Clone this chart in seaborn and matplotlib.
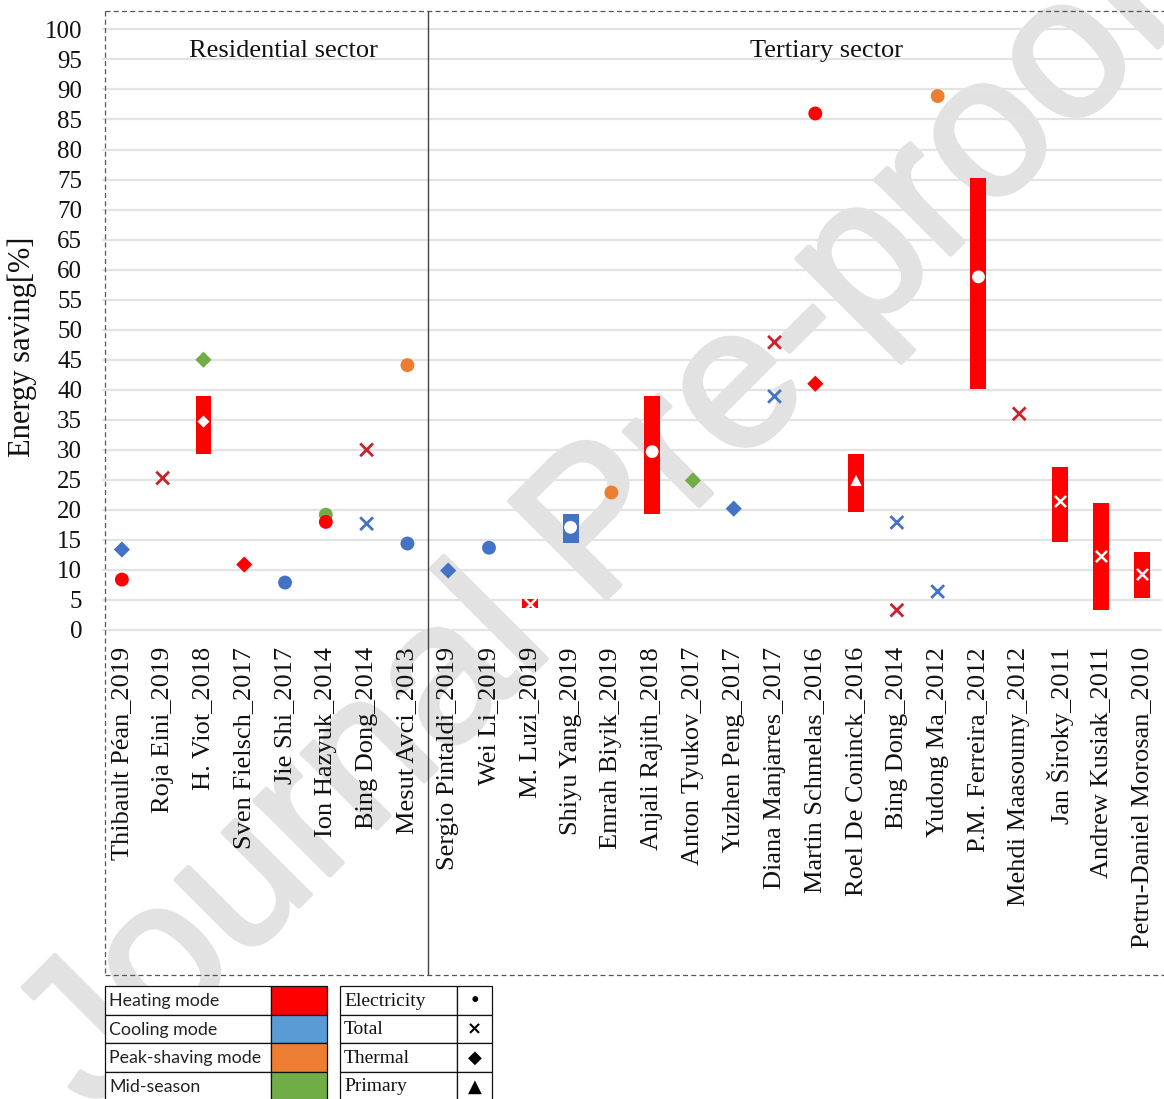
import matplotlib
matplotlib.use("Agg")
import matplotlib.pyplot as plt
import matplotlib.patheffects as pe
from matplotlib.lines import Line2D
from matplotlib.patches import Rectangle
import numpy as np
import pandas as pd
import seaborn as sns

# ---------------------------------------------------------------- data
studies = [
    "Thibault Péan_2019", "Roja Eini_2019", "H. Viot_2018", "Sven Fielsch_2017",
    "Jie Shi_2017", "Ion Hazyuk_2014", "Bing Dong_2014", "Mesut Avci_2013",
    "Sergio Pintaldi_2019", "Wei Li_2019", "M. Luzi_2019", "Shiyu Yang_2019",
    "Emrah Biyik_2019", "Anjali Rajith_2018", "Anton Tyukov_2017", "Yuzhen Peng_2017",
    "Diana Manjarres_2017", "Martin Schmelas_2016", "Roel De Coninck_2016",
    "Bing Dong_2014", "Yudong Ma_2012", "P.M. Ferreira_2012", "Mehdi Maasoumy_2012",
    "Jan Široky_2011", "Andrew Kusiak_2011", "Petru-Daniel Morosan_2010",
]
n_residential = 8

# single reported savings (index into studies)
pt_study = [0, 0, 1, 2, 3, 4, 5, 5, 6, 6, 7, 7, 8, 9, 12, 14, 15, 16, 16, 17, 17,
            19, 19, 20, 20, 22]
pt_value = [13.4, 8.4, 25.3, 45.0, 10.9, 7.9, 19.2, 18.0, 30.0, 17.7, 44.1, 14.4,
            9.9, 13.7, 22.9, 24.9, 20.2, 47.9, 38.9, 86.0, 41.0, 17.9, 3.3, 88.9,
            6.4, 36.0]
pt_mode = ["Cooling", "Heating", "Heating", "Mid-season", "Heating", "Cooling",
           "Mid-season", "Heating", "Heating", "Cooling", "Peak-shaving", "Cooling",
           "Cooling", "Cooling", "Peak-shaving", "Mid-season", "Cooling", "Heating",
           "Cooling", "Heating", "Heating", "Cooling", "Heating", "Peak-shaving",
           "Cooling", "Heating"]
pt_kind = ["Thermal", "Electricity", "Total", "Thermal", "Thermal", "Electricity",
           "Electricity", "Electricity", "Total", "Total", "Electricity", "Electricity",
           "Thermal", "Electricity", "Electricity", "Thermal", "Thermal", "Total",
           "Total", "Electricity", "Thermal", "Total", "Total", "Electricity",
           "Total", "Total"]

# reported ranges of savings (min, max and representative value)
rg_study = [2, 10, 11, 13, 18, 21, 23, 24, 25]
rg_low = [29.3, 3.7, 14.5, 19.3, 19.6, 40.2, 14.7, 3.3, 5.3]
rg_high = [39.0, 5.1, 19.3, 39.0, 29.3, 75.3, 27.2, 21.1, 13.0]
rg_mid = [34.7, 4.4, 17.1, 29.7, 24.9, 58.8, 21.4, 12.3, 9.4]
rg_mode = ["Heating", "Heating", "Cooling", "Heating", "Heating", "Heating",
           "Heating", "Heating", "Heating"]
rg_kind = ["Thermal", "Total", "Electricity", "Electricity", "Primary", "Electricity",
           "Total", "Total", "Total"]

mode_colors = {"Heating": "#FF0000", "Cooling": "#4472C4",
               "Peak-shaving": "#ED7D31", "Mid-season": "#70AD47"}
cross_colors = {"Heating": "#C8232C", "Cooling": "#4472C4"}
legend_modes = ["Heating mode", "Cooling mode", "Peak-shaving mode", "Mid-season"]
legend_mode_colors = ["#FF0000", "#5B9BD5", "#ED7D31", "#70AD47"]
legend_kinds = ["Electricity", "Total", "Thermal", "Primary"]
legend_symbols = ["•", "×", "◆", "▲"]

points = pd.DataFrame({"x": pt_study, "value": pt_value,
                       "mode": pt_mode, "kind": pt_kind})
ranges = pd.DataFrame({"x": rg_study, "low": rg_low, "high": rg_high,
                       "mid": rg_mid, "mode": rg_mode, "kind": rg_kind})

# ---------------------------------------------------------------- style
sns.set_theme(style="white")
plt.rcParams["font.family"] = ["Liberation Serif", "DejaVu Serif"]

W, H = 1164, 1099
fig = plt.figure(figsize=(W / 100, H / 100), dpi=100)
fig.patch.set_facecolor("white")


def fxy(px, py):
    return px / W, 1 - py / H


y_zero_px, px_per_unit = 630.0, 6.006
ylo, yhi = -1.0, 103.1
ax_left, ax_right = 101.5, 1162.0
ax_bottom = y_zero_px - ylo * px_per_unit
ax_top = y_zero_px - yhi * px_per_unit
ax = fig.add_axes([ax_left / W, 1 - ax_bottom / H,
                   (ax_right - ax_left) / W, (ax_bottom - ax_top) / H])
ax.set_facecolor("none")

# ---------------------------------------------------------------- watermark (behind the chart)
wx, wy = fxy(92, 1113)
fig.text(wx, wy, "Journal Pre-proof", rotation=45, rotation_mode="anchor",
         ha="left", va="baseline", fontsize=144, family=["Liberation Sans"],
         color="#E2E2E2", zorder=-5,
         path_effects=[pe.withStroke(linewidth=3.5, foreground="#E2E2E2")])

# ---------------------------------------------------------------- ranges
ax.bar(ranges["x"], ranges["high"] - ranges["low"], bottom=ranges["low"],
       width=0.39, color=[mode_colors[m] for m in ranges["mode"]],
       linewidth=0, zorder=2)

mid_filled = ranges[ranges["kind"] != "Total"]
sns.scatterplot(data=mid_filled, x="x", y="mid", style="kind", size="kind",
                markers={"Electricity": "o", "Thermal": "D", "Primary": "^"},
                sizes={"Electricity": 85, "Thermal": 38, "Primary": 65},
                color="white", edgecolor="none", legend=False, zorder=4, ax=ax)
mid_cross = ranges[ranges["kind"] == "Total"]
sns.scatterplot(data=mid_cross, x="x", y="mid", marker="x", s=65,
                color="white", linewidth=1.8, legend=False, zorder=4, ax=ax)

# ---------------------------------------------------------------- points
filled = points[points["kind"] != "Total"]
sns.scatterplot(data=filled, x="x", y="value", hue="mode", style="kind",
                size="kind", palette=mode_colors,
                markers={"Electricity": "o", "Thermal": "D"},
                sizes={"Electricity": 100, "Thermal": 68},
                edgecolor="none", legend=False, zorder=3, ax=ax)
crosses = points[points["kind"] == "Total"]
sns.scatterplot(data=crosses, x="x", y="value", hue="mode", palette=cross_colors,
                marker="x", s=85, linewidth=2.0, legend=False, zorder=3, ax=ax)

# ---------------------------------------------------------------- axes
ax.set_xlim(-0.5, len(studies) - 0.5)
ax.set_ylim(ylo, yhi)
ax.set_xticks(np.arange(len(studies)))
ax.set_xticklabels(studies, rotation=90, fontsize=19)
ax.set_yticks(np.arange(0, 101, 5))
ax.set_yticklabels([str(v) for v in range(0, 101, 5)], fontsize=18)
ax.tick_params(axis="x", length=0, pad=8, colors="#111111")
ax.tick_params(axis="y", length=0, pad=14, colors="#111111")
ax.grid(axis="y", color="#E3E3E3", linewidth=1.6, zorder=0)
ax.grid(axis="x", visible=False)
ax.set_axisbelow(True)
for sp in ax.spines.values():
    sp.set_visible(False)
ax.set_xlabel("")
ax.set_ylabel("")
lx, ly = fxy(22, 347)
fig.text(lx, ly, "Energy saving[%]", rotation=90, ha="center", va="center",
         fontsize=22, color="#111111")

ax.text((283 - ax_left) / (ax_right - ax_left), (ax_bottom - 51) / (ax_bottom - ax_top),
        "Residential sector", transform=ax.transAxes, ha="center", va="center",
        fontsize=19, color="#111111")
ax.text((826 - ax_left) / (ax_right - ax_left), (ax_bottom - 51) / (ax_bottom - ax_top),
        "Tertiary sector", transform=ax.transAxes, ha="center", va="center",
        fontsize=19, color="#111111")

# ---------------------------------------------------------------- frame
box_l, box_t, box_b = 105, 11, 975
div_x = ax_left + n_residential * (ax_right - ax_left) / len(studies)
dash = dict(color="#555555", linewidth=0.9, linestyle=(0, (4, 2.6)))
for xs, ys in [((box_l, W), (box_t, box_t)), ((box_l, W), (box_b, box_b)),
               ((box_l, box_l), (box_t, box_b))]:
    p0, p1 = fxy(xs[0], ys[0]), fxy(xs[1], ys[1])
    fig.add_artist(Line2D([p0[0], p1[0]], [p0[1], p1[1]],
                          transform=fig.transFigure, **dash))
p0, p1 = fxy(div_x, box_t), fxy(div_x, box_b)
fig.add_artist(Line2D([p0[0], p1[0]], [p0[1], p1[1]], transform=fig.transFigure,
                      color="#444444", linewidth=1.0))

# ---------------------------------------------------------------- legend tables
row_edges = [986, 1014.5, 1043, 1071.5, 1100]


def cell(x0, y0, x1, y1, face="white"):
    fx0, fy1 = fxy(x0, y1)
    rect = Rectangle((fx0, fy1), (x1 - x0) / W, (y1 - y0) / H,
                     transform=fig.transFigure, facecolor=face,
                     edgecolor="#111111", linewidth=0.9, zorder=110)
    fig.add_artist(rect)


for i in range(4):
    y0, y1 = row_edges[i], row_edges[i + 1]
    cell(105, y0, 271, y1)
    cell(271, y0, 327, y1, legend_mode_colors[i])
    tx, ty = fxy(109, (y0 + y1) / 2 + 1)
    fig.text(tx, ty, legend_modes[i], ha="left", va="center", fontsize=12.8,
             family=["Lato", "DejaVu Sans"], color="#222222", zorder=120)
    cell(340, y0, 457, y1)
    cell(457, y0, 492, y1)
    tx, ty = fxy(344, (y0 + y1) / 2 + 1)
    fig.text(tx, ty, legend_kinds[i], ha="left", va="center", fontsize=14,
             color="#111111", zorder=120)
    tx, ty = fxy(474.5, (y0 + y1) / 2 + 1)
    fig.text(tx, ty, legend_symbols[i], ha="center", va="center",
             fontsize=13 if i != 0 else 12, family=["DejaVu Sans"],
             color="black", fontweight="bold", zorder=120)

fig.savefig("out.png", dpi=100, facecolor="white")
